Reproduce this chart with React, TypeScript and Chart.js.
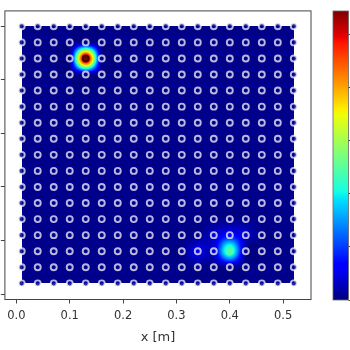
import React, { useEffect, useRef } from "react";
import { Chart, registerables } from "chart.js";

Chart.register(...registerables);

// Sensor grid positions (m)
const xPositions = [0.01, 0.04, 0.07, 0.1, 0.13, 0.16, 0.19, 0.22, 0.25, 0.28, 0.31, 0.34, 0.37, 0.4, 0.43, 0.46, 0.49, 0.52];
const yPositions = [0.02, 0.05, 0.08, 0.11, 0.14, 0.17, 0.2, 0.23, 0.26, 0.29, 0.32, 0.35, 0.38, 0.41, 0.44, 0.47, 0.5];

// Axis ticks
const xTickValues = [0, 0.1, 0.2, 0.3, 0.4, 0.5];
const yTickValues = [0, 0.1, 0.2, 0.3, 0.4, 0.5];
const colorbarTicks = [0, 1, 2, 3, 4, 5];

// Field values: background level plus the non-background cells
const baselineValue = 0.05;
const hotX = [0.13, 0.4, 0.4, 0.37, 0.43, 0.34, 0.37];
const hotY = [0.44, 0.08, 0.11, 0.11, 0.11, 0.08, 0.08];
const hotValue = [5.43, 2.4, 0.7, 0.35, 0.35, 0.5, 0.35];
const valueMin = 0;
const valueMax = 5.43;

const xLabel = "x [m]";

function buildGrid(): number[][] {
  const grid = yPositions.map(() => xPositions.map(() => baselineValue));
  hotX.forEach((hx, k) => {
    const i = xPositions.findIndex((v) => Math.abs(v - hx) < 1e-6);
    const j = yPositions.findIndex((v) => Math.abs(v - hotY[k]) < 1e-6);
    if (i >= 0 && j >= 0) grid[j][i] = hotValue[k];
  });
  return grid;
}

function interp(pts: number[][], t: number) {
  for (let k = 0; k < pts.length - 1; k++) {
    const [x0, y0] = pts[k];
    const [x1, y1] = pts[k + 1];
    if (t <= x1) return y0 + ((y1 - y0) * (t - x0)) / (x1 - x0);
  }
  return pts[pts.length - 1][1];
}

function jet(v: number): [number, number, number] {
  const t = Math.max(0, Math.min(1, v));
  const r = interp([[0, 0], [0.35, 0], [0.66, 1], [0.89, 1], [1, 0.5]], t);
  const g = interp([[0, 0], [0.125, 0], [0.375, 1], [0.64, 1], [0.91, 0], [1, 0]], t);
  const b = interp([[0, 0.5], [0.11, 1], [0.34, 1], [0.65, 0], [1, 0]], t);
  return [Math.round(r * 255), Math.round(g * 255), Math.round(b * 255)];
}

function norm(v: number) {
  return (v - valueMin) / (valueMax - valueMin);
}

function locate(arr: number[], v: number): [number, number] {
  if (v <= arr[0]) return [0, 0];
  for (let k = 0; k < arr.length - 1; k++) {
    if (v <= arr[k + 1]) return [k, (v - arr[k]) / (arr[k + 1] - arr[k])];
  }
  return [arr.length - 2, 1];
}

// Keys cubic convolution kernel (a = -0.5)
function kernel(x: number) {
  const a = -0.5;
  const t = Math.abs(x);
  if (t <= 1) return (a + 2) * t * t * t - (a + 3) * t * t + 1;
  if (t < 2) return a * t * t * t - 5 * a * t * t + 8 * a * t - 4 * a;
  return 0;
}

export default function App() {
  const canvasRef = useRef<HTMLCanvasElement | null>(null);

  useEffect(() => {
    const canvas = canvasRef.current;
    if (!canvas) return;
    const grid = buildGrid();
    const nx = xPositions.length;
    const ny = yPositions.length;
    const cell = (j: number, i: number) =>
      grid[Math.max(0, Math.min(ny - 1, j))][Math.max(0, Math.min(nx - 1, i))];

    const sample = (xv: number, yv: number) => {
      const [i, fx] = locate(xPositions, xv);
      const [j, fy] = locate(yPositions, yv);
      let s = 0;
      for (let m = -1; m <= 2; m++) {
        const wy = kernel(fy - m);
        if (wy === 0) continue;
        for (let n = -1; n <= 2; n++) {
          const wx = kernel(fx - n);
          if (wx === 0) continue;
          s += wx * wy * cell(j + m, i + n);
        }
      }
      return s;
    };

    const points: { x: number; y: number }[] = [];
    const fills: string[] = [];
    const borders: string[] = [];
    yPositions.forEach((y, j) => {
      xPositions.forEach((x, i) => {
        points.push({ x, y });
        const n = norm(grid[j][i]);
        const [r, g, b] = jet(n);
        fills.push(`rgba(${r},${g},${b},0.85)`);
        if (n > 0.8) borders.push("rgba(70,0,0,0.9)");
        else if (n > 0.3) borders.push(`rgb(${r},${g},${b})`);
        else borders.push("rgba(255,255,255,0.72)");
      });
    });

    const heatmapPlugin = {
      id: "heatmap",
      beforeDatasetsDraw(chart: any) {
        const ctx = chart.ctx as CanvasRenderingContext2D;
        const xs = chart.scales.x;
        const ys = chart.scales.y;
        const left = Math.round(xs.getPixelForValue(xPositions[0]));
        const right = Math.round(xs.getPixelForValue(xPositions[nx - 1]));
        const top = Math.round(ys.getPixelForValue(yPositions[ny - 1]));
        const bottom = Math.round(ys.getPixelForValue(yPositions[0]));
        const w = right - left;
        const h = bottom - top;
        if (w <= 0 || h <= 0) return;
        const off = document.createElement("canvas");
        off.width = w;
        off.height = h;
        const octx = off.getContext("2d")!;
        const img = octx.createImageData(w, h);
        for (let py = 0; py < h; py++) {
          const yv = ys.getValueForPixel(top + py + 0.5);
          for (let px = 0; px < w; px++) {
            const xv = xs.getValueForPixel(left + px + 0.5);
            const v = sample(xv, yv);
            const [r, g, b] = jet(norm(v));
            const o = (py * w + px) * 4;
            img.data[o] = r;
            img.data[o + 1] = g;
            img.data[o + 2] = b;
            img.data[o + 3] = 255;
          }
        }
        octx.putImageData(img, 0, 0);
        ctx.save();
        ctx.drawImage(off, left, top);
        ctx.restore();
      },
      afterDraw(chart: any) {
        const ctx = chart.ctx as CanvasRenderingContext2D;
        const a = chart.chartArea;
        ctx.save();
        // frame
        ctx.strokeStyle = "#444";
        ctx.lineWidth = 1;
        ctx.strokeRect(a.left, a.top, a.right - a.left, a.bottom - a.top);
        // colorbar
        const cbLeft = 333;
        const cbRight = 348.5;
        const cb = chart.scales.cb;
        const cTop = Math.round(cb.getPixelForValue(valueMax));
        const cBottom = Math.round(cb.getPixelForValue(valueMin));
        for (let y = cTop; y < cBottom; y++) {
          const v = cb.getValueForPixel(y + 0.5);
          const [r, g, b] = jet(norm(v));
          ctx.fillStyle = `rgb(${r},${g},${b})`;
          ctx.fillRect(cbLeft, y, cbRight - cbLeft, 1);
        }
        ctx.strokeStyle = "#666";
        ctx.lineWidth = 0.8;
        ctx.strokeRect(cbLeft, cTop, cbRight - cbLeft, cBottom - cTop);
        ctx.strokeStyle = "#444";
        ctx.lineWidth = 1;
        colorbarTicks.forEach((t) => {
          const y = Math.round(cb.getPixelForValue(t)) + 0.5;
          ctx.beginPath();
          ctx.moveTo(cbRight, y);
          ctx.lineTo(cbRight + 3.5, y);
          ctx.stroke();
        });
        ctx.restore();
      },
    };

    const chart = new Chart(canvas, {
      type: "scatter",
      data: {
        datasets: [
          {
            data: points,
            backgroundColor: fills,
            borderColor: borders,
            borderWidth: 1.9,
            pointRadius: 3,
            pointHoverRadius: 3,
          },
        ],
      },
      options: {
        animation: false,
        responsive: false,
        events: [],
        layout: { padding: { top: 9.5, right: 39, left: 0, bottom: 0 } },
        plugins: { legend: { display: false }, tooltip: { enabled: false } },
        scales: {
          x: {
            type: "linear",
            position: "bottom",
            min: -0.0215,
            max: 0.5522,
            afterBuildTicks: (s: any) => {
              s.ticks = xTickValues.map((value) => ({ value }));
            },
            afterFit: (s: any) => {
              s.height = 50.5;
            },
            border: { display: false },
            grid: { drawOnChartArea: false, drawTicks: true, tickLength: 4, color: "#444" },
            ticks: {
              color: "#333",
              padding: 6,
              maxRotation: 0,
              font: { family: "DejaVu Sans", size: 11.5 },
              callback: (v: any) => Number(v).toFixed(1),
            },
            title: {
              display: true,
              text: xLabel,
              color: "#333",
              font: { family: "DejaVu Sans", size: 13 },
              padding: { top: 0, bottom: 5 },
            },
          },
          y: {
            type: "linear",
            position: "left",
            min: -0.0102,
            max: 0.5288,
            afterBuildTicks: (s: any) => {
              s.ticks = yTickValues.map((value) => ({ value }));
            },
            afterFit: (s: any) => {
              s.width = 3.5;
            },
            border: { display: false },
            grid: { drawOnChartArea: false, drawTicks: true, tickLength: 4, color: "#444" },
            ticks: {
              color: "#333",
              padding: 4,
              font: { family: "DejaVu Sans", size: 11.5 },
              callback: (v: any) => Number(v).toFixed(1),
            },
          },
          cb: {
            type: "linear",
            position: "right",
            display: false,
            min: valueMin,
            max: valueMax,
          },
        },
      },
      plugins: [heatmapPlugin],
    });

    return () => chart.destroy();
  }, []);

  return (
    <div style={{ position: "fixed", left: 0, top: 0, width: 350, height: 350, background: "#fff" }}>
      <canvas ref={canvasRef} width={350} height={350} style={{ display: "block", width: 350, height: 350 }} />
    </div>
  );
}
